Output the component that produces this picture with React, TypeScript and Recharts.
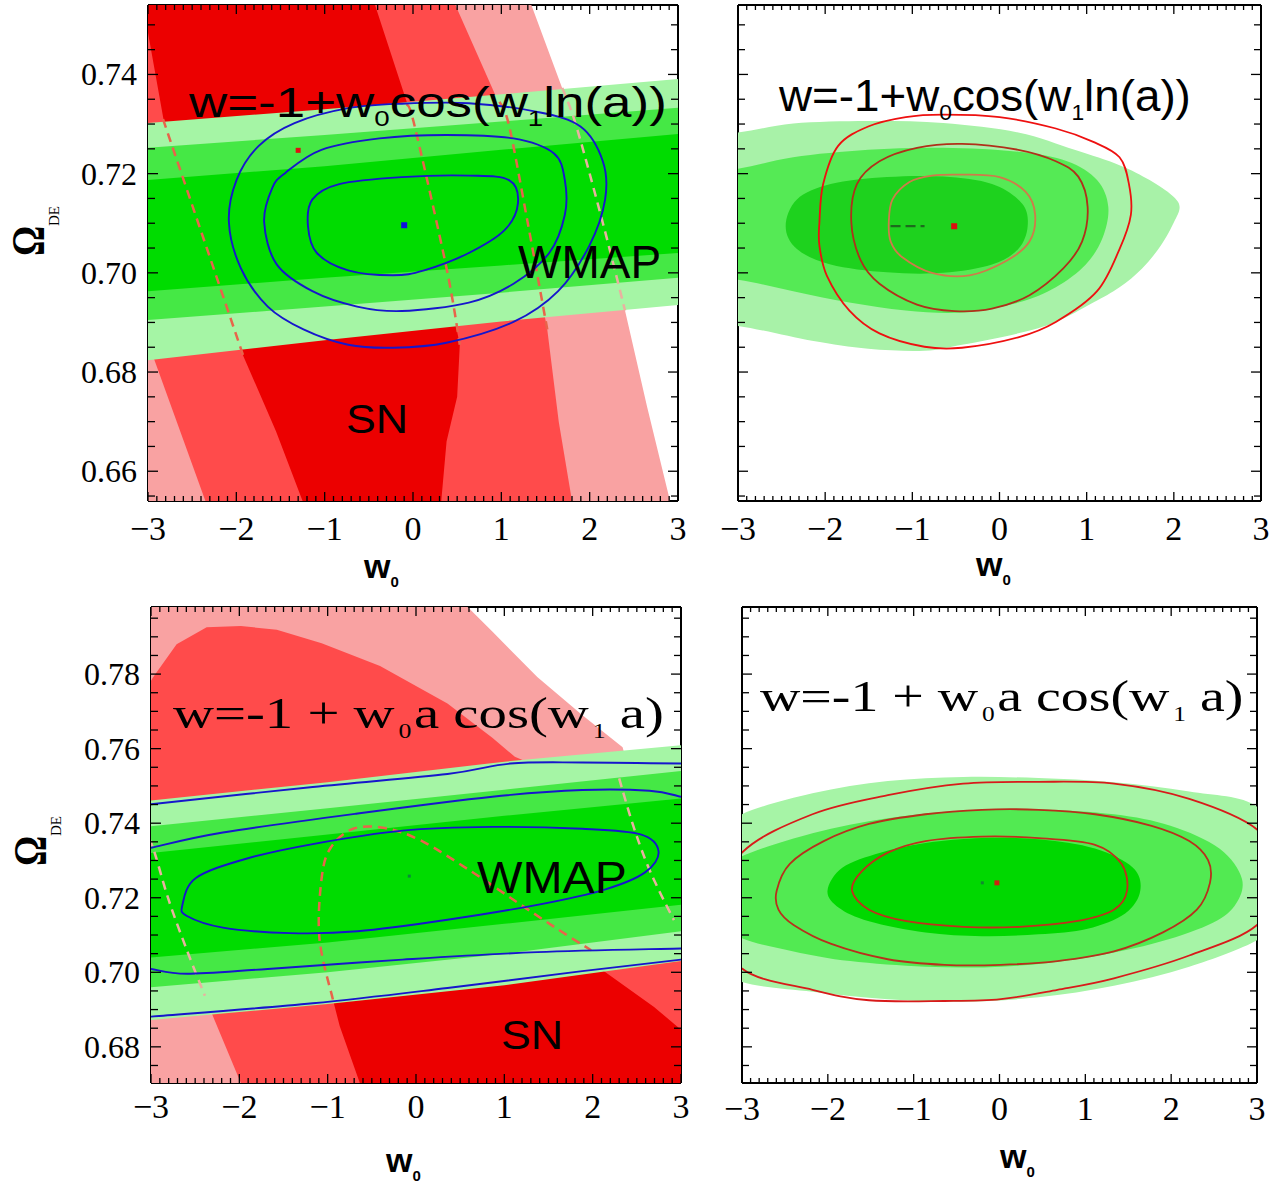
import React from 'react';
import { ScatterChart, Scatter, XAxis, YAxis } from 'recharts';

type Pair = [number, number];

// ---------------- axes ----------------
const X_DOMAIN: [number, number] = [-3, 3];
const X_MAJOR = [-3, -2, -1, 0, 1, 2, 3];
const X_MINOR = Array.from({ length: 61 }, (_, i) => (i - 30) / 10);
const Y_DOMAIN_TOP: [number, number] = [0.654, 0.754];
const Y_MAJOR_TOP = [0.66, 0.68, 0.7, 0.72, 0.74];
const Y_MINOR_TOP = Array.from({ length: 20 }, (_, i) => (655 + 5 * i) / 1000);
const Y_DOMAIN_BOT: [number, number] = [0.6703, 0.798];
const Y_MAJOR_BOT = [0.68, 0.7, 0.72, 0.74, 0.76, 0.78];
const Y_MINOR_BOT = Array.from({ length: 25 }, (_, i) => (675 + 5 * i) / 1000);

// ---------------- colours ----------------
const SN_PINK = '#f9a2a2';
const SN_MED = '#ff4b4b';
const SN_DARK = '#ec0000';
const G_LIGHT = '#a5f5a5';
const G_MID = '#45e845';
const G_IN = '#00dc00';
const BLUE = '#1616cc';
const DASH_RED = '#e8644a';
const DASH_PALE = '#eab0a0';

// ---------------- panel 1 : w=-1+w0 cos(w1 ln a), SN + WMAP ----------------
const P1_SN_3S: Pair[] = [[-3.6, 0.77], [1.0, 0.77], [1.34, 0.754], [1.85, 0.7295], [2.4, 0.6924], [2.65, 0.673], [2.91, 0.654], [3.1, 0.64], [-3.6, 0.64]];
const P1_SN_2S: Pair[] = [[-4.7, 0.77], [0.08, 0.77], [0.48, 0.754], [1.09, 0.7295], [1.52, 0.6886], [1.65, 0.67], [1.8, 0.654], [1.85, 0.645], [-2.2, 0.645], [-2.35, 0.654], [-3.0, 0.686]];
const P1_SN_1S: Pair[] = [[-3.2, 0.77], [-0.75, 0.77], [-0.43, 0.754], [0.02, 0.7295], [0.53, 0.6855], [0.5, 0.675], [0.38, 0.666], [0.32, 0.654], [0.3, 0.645], [-1.15, 0.645], [-1.25, 0.654], [-1.55, 0.668], [-1.92, 0.6832], [-2.81, 0.7295], [-3.0, 0.7484]];
const P1_WMAP_3S: Pair[] = [[-3.5, 0.7298], [-3, 0.7302], [-1, 0.733], [1, 0.736], [3, 0.7391], [3.5, 0.7398], [3.5, 0.6945], [3, 0.6935], [1, 0.6902], [-1, 0.6864], [-3, 0.6824], [-3.5, 0.6814]];
const P1_WMAP_2S: Pair[] = [[-3.5, 0.7248], [-3, 0.7252], [-1, 0.7278], [1, 0.7305], [3, 0.7333], [3.5, 0.734], [3.5, 0.6998], [3, 0.699], [1, 0.696], [-1, 0.6932], [-3, 0.6905], [-3.5, 0.69]];
const P1_WMAP_1S: Pair[] = [[-3.5, 0.7183], [-3, 0.7187], [-1, 0.7215], [1, 0.7248], [3, 0.728], [3.5, 0.7287], [3.5, 0.7048], [3, 0.704], [1, 0.7015], [-1, 0.699], [-3, 0.6963], [-3.5, 0.6958]];
const P1_DASH_L1: Pair[] = [[-2.83, 0.731], [-1.92, 0.6832]];
const P1_DASH_R1: Pair[] = [[-0.07, 0.734], [0.02, 0.7295], [0.38, 0.7009], [0.53, 0.6855]];
const P1_DASH_R2: Pair[] = [[0.98, 0.7345], [1.09, 0.7295], [1.3, 0.71], [1.52, 0.6886]];
const P1_DASH_R3: Pair[] = [[1.69, 0.7373], [1.85, 0.7295], [2.15, 0.71], [2.4, 0.6924]];
const P1_BLUE_1S: Pair[] = [[-1.189, 0.7094], [-1.139, 0.7148], [-0.835, 0.7179], [-0.127, 0.7193], [0.632, 0.7196], [1.087, 0.7187], [1.188, 0.714], [1.036, 0.7086], [0.632, 0.704], [0.126, 0.7005], [-0.228, 0.6995], [-0.734, 0.7005], [-1.088, 0.704]];
const P1_BLUE_2S: Pair[] = [[-1.685, 0.7102], [-1.594, 0.7171], [-1.442, 0.7202], [-1.037, 0.7248], [-0.38, 0.7271], [0.379, 0.7278], [1.138, 0.7271], [1.593, 0.7241], [1.719, 0.7187], [1.719, 0.7117], [1.542, 0.704], [1.138, 0.6978], [0.632, 0.694], [-0.127, 0.6923], [-0.633, 0.6932], [-1.139, 0.6963], [-1.543, 0.7017]];
const P1_BLUE_3S: Pair[] = [[-2.084, 0.7102], [-1.998, 0.7187], [-1.746, 0.7256], [-1.341, 0.7302], [-0.734, 0.7332], [-0.127, 0.7341], [0.632, 0.7342], [1.391, 0.7325], [1.896, 0.7295], [2.149, 0.7225], [2.175, 0.7148], [1.997, 0.7055], [1.643, 0.6963], [1.138, 0.6901], [0.379, 0.6859], [-0.228, 0.6849], [-0.734, 0.6855], [-1.24, 0.6886], [-1.644, 0.6932], [-1.948, 0.7009]];
const P1_RED_DOT: Pair[] = [[-1.3, 0.7247]];
const P1_BLUE_DOT: Pair[] = [[-0.1, 0.7096]];

// ---------------- panel 2 : w=-1+w0 cos(w1 ln a), combined ----------------
const P2_G_3S: Pair[] = [[-3.6, 0.728], [-3, 0.7283], [-2.367, 0.7301], [-1.506, 0.7306], [-0.646, 0.7302], [0.215, 0.7283], [0.861, 0.7248], [1.377, 0.7217], [1.722, 0.7187], [1.98, 0.7156], [2.066, 0.7133], [2.001, 0.7102], [1.851, 0.7055], [1.636, 0.7009], [1.377, 0.6971], [1.076, 0.694], [0.646, 0.6901], [0.215, 0.6878], [-0.43, 0.6855], [-0.861, 0.6843], [-1.506, 0.6847], [-2.152, 0.6863], [-3, 0.6893], [-3.6, 0.69]];
const P2_G_2S: Pair[] = [[-3.6, 0.72], [-3, 0.721], [-2.367, 0.7233], [-1.506, 0.7248], [-0.646, 0.7252], [0.215, 0.7244], [0.775, 0.7225], [1.119, 0.7187], [1.248, 0.7133], [1.184, 0.7071], [0.99, 0.7017], [0.646, 0.6971], [0.215, 0.694], [-0.43, 0.692], [-1.076, 0.6924], [-1.722, 0.694], [-2.367, 0.6963], [-3, 0.6986], [-3.6, 0.6995]];
const P2_G_1S: Pair[] = [[-2.453, 0.7094], [-2.324, 0.7148], [-1.937, 0.7179], [-1.291, 0.7193], [-0.646, 0.7194], [-0.086, 0.7179], [0.258, 0.714], [0.323, 0.7094], [0.215, 0.7048], [-0.086, 0.7017], [-0.646, 0.7], [-1.291, 0.7001], [-1.937, 0.7017], [-2.324, 0.7048]];
const P2_RED_3S: Pair[] = [[-2.066, 0.7102], [-2.023, 0.7179], [-1.851, 0.7256], [-1.506, 0.7295], [-1.076, 0.7314], [-0.646, 0.7319], [0.0, 0.7314], [0.646, 0.7291], [1.076, 0.7264], [1.377, 0.7233], [1.485, 0.7179], [1.507, 0.7117], [1.377, 0.7048], [1.119, 0.6963], [0.646, 0.6901], [0.215, 0.687], [-0.43, 0.6849], [-0.861, 0.6851], [-1.377, 0.6878], [-1.722, 0.6924], [-1.98, 0.6994], [-2.066, 0.7055]];
const P2_RED_2S: Pair[] = [[-1.7, 0.7102], [-1.636, 0.7179], [-1.377, 0.7225], [-0.947, 0.7252], [-0.43, 0.726], [0.215, 0.7248], [0.646, 0.7225], [0.904, 0.7194], [1.011, 0.7133], [0.947, 0.7063], [0.732, 0.7009], [0.344, 0.6955], [-0.086, 0.6928], [-0.516, 0.6923], [-0.947, 0.6936], [-1.377, 0.6978], [-1.592, 0.7025]];
const P2_RED_1S: Pair[] = [[-1.27, 0.7102], [-1.227, 0.7148], [-1.033, 0.7183], [-0.775, 0.7196], [-0.43, 0.7198], [0.0, 0.7193], [0.301, 0.7163], [0.409, 0.7117], [0.344, 0.7063], [0.086, 0.7025], [-0.344, 0.6995], [-0.775, 0.7], [-1.119, 0.7032], [-1.248, 0.7063]];
const P2_DARK_DASH: Pair[] = [[-1.25, 0.7094], [-0.86, 0.7094]];
const P2_RED_DOT: Pair[] = [[-0.52, 0.7094]];

// ---------------- panel 3 : w=-1 + w0 a cos(w1 a), SN + WMAP ----------------
const P3_SN_3S: Pair[] = [[-3.5, 0.81], [0.45, 0.81], [0.585, 0.798], [0.864, 0.7914], [1.373, 0.7792], [1.881, 0.769], [2.339, 0.7604], [2.45, 0.7507], [2.593, 0.7314], [2.72, 0.7248], [3.0, 0.708], [3.5, 0.69], [3.5, 0.66], [-3.5, 0.66]];
const P3_SN_2S: Pair[] = [[-3.3, 0.76], [-3.2, 0.77], [-2.98, 0.779], [-2.71, 0.788], [-2.37, 0.7926], [-1.983, 0.7929], [-1.576, 0.7919], [-1.068, 0.7883], [-0.407, 0.7822], [0.356, 0.7721], [0.864, 0.7629], [1.119, 0.7578], [1.6, 0.753], [2.1, 0.747], [2.6, 0.738], [3.0, 0.729], [3.5, 0.715], [3.5, 0.66], [-1.95, 0.66], [-1.983, 0.6703], [-2.288, 0.6876], [-2.39, 0.6937], [-2.593, 0.7059], [-2.797, 0.7192], [-2.95, 0.7314], [-3.05, 0.738], [-3.3, 0.745]];
const P3_SN_1S: Pair[] = [[-0.62, 0.66], [-0.636, 0.6703], [-0.712, 0.6754], [-0.864, 0.6856], [-0.941, 0.6927], [-1.093, 0.709], [-1.068, 0.7253], [-0.966, 0.7334], [-0.712, 0.7385], [-0.356, 0.7387], [0.051, 0.7354], [0.61, 0.7273], [1.119, 0.7192], [1.576, 0.712], [1.983, 0.7059], [2.034, 0.7019], [2.695, 0.6907], [3.0, 0.6846], [3.3, 0.675], [3.3, 0.66]];
const P3_WMAP_3S: Pair[] = [[-3.5, 0.7449], [-3, 0.7461], [-1, 0.751], [1, 0.7565], [3, 0.7609], [3.5, 0.762], [3.5, 0.7045], [3, 0.703], [1, 0.6965], [-1, 0.6915], [-3, 0.6872], [-3.5, 0.6862]];
const P3_WMAP_2S: Pair[] = [[-3.5, 0.738], [-3, 0.7392], [-1, 0.744], [1, 0.749], [3, 0.754], [3.5, 0.7552], [3.5, 0.7125], [3, 0.711], [1, 0.705], [-1, 0.7], [-3, 0.696], [-3.5, 0.695]];
const P3_WMAP_1S: Pair[] = [[-3.5, 0.7308], [-3, 0.732], [-1, 0.737], [1, 0.742], [3, 0.7466], [3.5, 0.7478], [3.5, 0.7194], [3, 0.7181], [1, 0.713], [-1, 0.708], [-3, 0.704], [-3.5, 0.703]];
const P3_DASH_ARCH: Pair[] = [[-0.941, 0.6927], [-1.093, 0.709], [-1.068, 0.7253], [-0.966, 0.7334], [-0.712, 0.7385], [-0.356, 0.7387], [0.051, 0.7354], [0.61, 0.7273], [1.119, 0.7192], [1.576, 0.712], [1.983, 0.7059]];
const P3_DASH_LEFT: Pair[] = [[-3.02, 0.736], [-2.95, 0.7314], [-2.797, 0.7192], [-2.593, 0.7059], [-2.39, 0.6937]];
const P3_DASH_RIGHT: Pair[] = [[2.3, 0.752], [2.45, 0.74], [2.6, 0.73], [2.75, 0.722], [2.92, 0.714]];
const P3_BLUE_3S_TOP: Pair[] = [[-3.1, 0.7445], [-3, 0.7451], [-1.169, 0.7497], [0.356, 0.7532], [1.068, 0.756], [1.881, 0.7563], [3.0, 0.756], [3.1, 0.7558]];
const P3_BLUE_2S_TOP: Pair[] = [[-3.1, 0.7328], [-3, 0.7334], [-2.186, 0.7375], [-0.661, 0.7426], [0.864, 0.7471], [1.881, 0.7489], [2.644, 0.7487], [3.0, 0.7471], [3.1, 0.7465]];
const P3_BLUE_1S: Pair[] = [[-2.644, 0.7181], [-2.492, 0.7253], [-1.932, 0.7304], [-1.169, 0.7344], [-0.153, 0.738], [0.864, 0.739], [1.881, 0.7385], [2.542, 0.737], [2.746, 0.7324], [2.593, 0.7268], [2.136, 0.7222], [1.373, 0.7181], [0.356, 0.7141], [-0.661, 0.711], [-1.424, 0.7105], [-2.186, 0.712], [-2.593, 0.7151]];
const P3_BLUE_2S_BOT: Pair[] = [[-3.1, 0.7011], [-3, 0.7009], [-2.593, 0.6996], [-1.678, 0.7009], [-0.153, 0.7034], [1.373, 0.7054], [3.0, 0.7064], [3.1, 0.7065]];
const P3_BLUE_3S_BOT: Pair[] = [[-3.1, 0.6879], [-3, 0.6881], [-1.169, 0.6917], [0.356, 0.6958], [1.881, 0.7003], [3.0, 0.7034], [3.1, 0.7037]];
const P3_DOT: Pair[] = [[-0.076, 0.7258]];

// ---------------- panel 4 : w=-1 + w0 a cos(w1 a), combined ----------------
const P4_G_3S: Pair[] = [[-3.3, 0.736], [-3, 0.7424], [-2.179, 0.748], [-1.301, 0.7513], [-0.423, 0.7524], [0.455, 0.7521], [1.333, 0.751], [2.211, 0.7485], [3, 0.7444], [3.25, 0.73], [3.25, 0.715], [3, 0.7086], [2.211, 0.7015], [1.333, 0.6964], [0.455, 0.6933], [-0.423, 0.6921], [-1.301, 0.6928], [-2.179, 0.6948], [-3, 0.6974], [-3.3, 0.703], [-3.45, 0.72]];
const P4_G_2S: Pair[] = [[-3.25, 0.726], [-3, 0.7311], [-2.179, 0.7373], [-1.301, 0.7413], [-0.423, 0.7434], [0.455, 0.7437], [1.333, 0.7424], [1.991, 0.7393], [2.562, 0.7332], [2.825, 0.725], [2.738, 0.7178], [2.43, 0.7127], [1.772, 0.7076], [0.894, 0.7035], [0.016, 0.7015], [-0.862, 0.7015], [-1.74, 0.703], [-2.399, 0.7056], [-3, 0.7091], [-3.25, 0.714], [-3.35, 0.72]];
const P4_G_1S: Pair[] = [[-2.004, 0.7219], [-1.828, 0.7281], [-1.389, 0.7321], [-0.862, 0.7347], [-0.204, 0.736], [0.455, 0.7357], [1.113, 0.7332], [1.552, 0.7281], [1.64, 0.7219], [1.464, 0.7158], [1.026, 0.7117], [0.455, 0.7102], [-0.204, 0.7097], [-0.862, 0.7107], [-1.521, 0.7137], [-1.872, 0.7173]];
const P4_RED_3S: Pair[] = [[-3.3, 0.716], [-3, 0.7321], [-2.179, 0.7424], [-1.301, 0.7475], [-0.423, 0.7506], [0.455, 0.7511], [1.333, 0.7506], [2.211, 0.7465], [3, 0.7383], [3.3, 0.726], [3, 0.7127], [2.211, 0.7045], [1.333, 0.6984], [0.674, 0.6953], [0.016, 0.6928], [-0.643, 0.6923], [-1.521, 0.6925], [-2.179, 0.6953], [-3, 0.701]];
const P4_RED_2S: Pair[] = [[-2.596, 0.7219], [-2.443, 0.7291], [-2.047, 0.7352], [-1.521, 0.7398], [-0.862, 0.7424], [-0.204, 0.7436], [0.455, 0.7436], [1.113, 0.7424], [1.772, 0.7393], [2.211, 0.7352], [2.43, 0.7301], [2.452, 0.724], [2.299, 0.7168], [1.904, 0.7107], [1.333, 0.7056], [0.674, 0.703], [0.016, 0.702], [-0.643, 0.702], [-1.301, 0.7035], [-1.96, 0.7076], [-2.399, 0.7127], [-2.575, 0.7168]];
const P4_RED_1S: Pair[] = [[-1.718, 0.7219], [-1.608, 0.727], [-1.301, 0.7321], [-0.862, 0.7352], [-0.204, 0.7364], [0.455, 0.736], [1.113, 0.7342], [1.421, 0.7291], [1.486, 0.7219], [1.333, 0.7168], [0.894, 0.7137], [0.235, 0.7122], [-0.423, 0.7122], [-1.082, 0.7137], [-1.521, 0.7168]];
const P4_GREEN_DOT: Pair[] = [[-0.2, 0.724]];
const P4_RED_DOT: Pair[] = [[-0.03, 0.724]];

// ---------------- helpers ----------------
type LayerSpec = {
  data: Pair[];
  kind: 'fill' | 'line' | 'dot';
  color: string;
  width?: number;
  dash?: string;
  closed?: boolean;
  smooth?: boolean;
  size?: number;
};

type XY = { x: number; y: number };
const toPts = (a: Pair[]) => a.map(([x, y]) => ({ x, y }));
const cleanPts = (pts: any[]): XY[] =>
  (pts || []).filter((q: any) => q && q.x != null && q.y != null && isFinite(q.x) && isFinite(q.y));

// straight or Catmull-Rom smoothed path through the pixel points the library produced
const pathOf = (raw: any[], closed: boolean, smooth: boolean) => {
  const p = cleanPts(raw);
  if (!p.length) return '';
  if (!smooth || p.length < 3) {
    return p.map((q, i) => `${i ? 'L' : 'M'}${q.x},${q.y}`).join('') + (closed ? 'Z' : '');
  }
  const n = p.length;
  const at = (i: number) => (closed ? p[(i + n) % n] : p[Math.max(0, Math.min(n - 1, i))]);
  const segs = closed ? n : n - 1;
  let d = `M${p[0].x},${p[0].y}`;
  for (let i = 0; i < segs; i++) {
    const p0 = at(i - 1), p1 = at(i), p2 = at(i + 1), p3 = at(i + 2);
    const c1x = p1.x + (p2.x - p0.x) / 6, c1y = p1.y + (p2.y - p0.y) / 6;
    const c2x = p2.x - (p3.x - p1.x) / 6, c2y = p2.y - (p3.y - p1.y) / 6;
    d += `C${c1x},${c1y} ${c2x},${c2y} ${p2.x},${p2.y}`;
  }
  return d + (closed ? 'Z' : '');
};
const fillLine = (color: string, smooth: boolean) => (props: any) => <path d={pathOf(props.points, true, smooth)} fill={color} stroke="none" />;
const strokeLine = (color: string, width: number, dash: string | undefined, closed: boolean, smooth: boolean) => (props: any) => (
  <path d={pathOf(props.points, closed, smooth)} fill="none" stroke={color} strokeWidth={width} strokeDasharray={dash} strokeLinejoin="round" />
);
const noShape = () => <g />;
const dotShape = (color: string, s: number) => (p: any) => <rect x={p.cx - s / 2} y={p.cy - s / 2} width={s} height={s} fill={color} />;

const near = (v: number, list: number[]) => list.some((m) => Math.abs(m - v) < 1e-6);
const fmtX = (v: number) => (v < 0 ? '\u2212' + Math.abs(v) : String(v));

const SANS = '"Liberation Sans", Arial, Helvetica, sans-serif';
const SERIF = '"Liberation Serif", "Times New Roman", Times, serif';

const bottomTick = (labels: boolean, base: number) => (p: any) => {
  const v = p.payload?.value as number;
  const major = near(v, X_MAJOR);
  return (
    <g>
      <line x1={p.x} x2={p.x} y1={p.y} y2={p.y - (major ? 9 : 5)} stroke="#000" strokeWidth={1.3} />
      {labels && major ? (
        <text x={p.x} y={p.y + base} textAnchor="middle" fontFamily={SERIF} fontSize={34} fill="#000">
          {fmtX(v)}
        </text>
      ) : null}
    </g>
  );
};
const topTick = (p: any) => {
  const v = p.payload?.value as number;
  const major = near(v, X_MAJOR);
  return <line x1={p.x} x2={p.x} y1={p.y} y2={p.y + (major ? 9 : 5)} stroke="#000" strokeWidth={1.3} />;
};
const leftTick = (labels: boolean, majors: number[]) => (p: any) => {
  const v = p.payload?.value as number;
  const major = near(v, majors);
  return (
    <g>
      <line x1={p.x} x2={p.x + (major ? 10 : 7)} y1={p.y} y2={p.y} stroke="#000" strokeWidth={1.3} />
      {labels && major ? (
        <text x={p.x - 11} y={p.y + 11} textAnchor="end" fontFamily={SERIF} fontSize={32} fill="#000">
          {v.toFixed(2)}
        </text>
      ) : null}
    </g>
  );
};
const rightTick = (majors: number[]) => (p: any) => {
  const v = p.payload?.value as number;
  const major = near(v, majors);
  return <line x1={p.x} x2={p.x - (major ? 10 : 7)} y1={p.y} y2={p.y} stroke="#000" strokeWidth={1.3} />;
};

type PanelProps = {
  box: { x: number; y: number; w: number; h: number };
  yDomain: [number, number];
  yMajor: number[];
  yMinor: number[];
  yLabels: boolean;
  xLabelBase: number;
  layers: LayerSpec[];
};

function Panel({ box, yDomain, yMajor, yMinor, yLabels, xLabelBase, layers }: PanelProps) {
  // outer room around the plot box; each axis band is 1px thick, so margins are 1px smaller
  const oL = 150, oT = 10, oR = 12, oB = 60;
  const W = box.w + oL + oR;
  const H = box.h + oT + oB;
  const axisLine = { stroke: '#000', strokeWidth: 2 };
  return (
    <div style={{ position: 'absolute', left: box.x - oL, top: box.y - oT, width: W, height: H }}>
      <ScatterChart width={W} height={H} margin={{ top: oT - 1, right: oR - 1, bottom: oB - 1, left: oL - 1 }}>
        {layers.map((L, i) => {
          if (L.kind === 'fill') {
            return <Scatter key={i} data={toPts(L.data)} isAnimationActive={false} legendType="none" shape={noShape} line={fillLine(L.color, !!L.smooth)} />;
          }
          if (L.kind === 'line') {
            const useData = L.closed && !L.smooth ? [...L.data, L.data[0]] : L.data;
            return (
              <Scatter
                key={i}
                data={toPts(useData)}
                isAnimationActive={false}
                legendType="none"
                shape={noShape}
                line={strokeLine(L.color, L.width ?? 1.8, L.dash, !!L.closed, !!L.smooth)}
              />
            );
          }
          return <Scatter key={i} data={toPts(L.data)} isAnimationActive={false} legendType="none" shape={dotShape(L.color, L.size ?? 5)} />;
        })}
        <XAxis
          xAxisId={0}
          type="number"
          dataKey="x"
          domain={X_DOMAIN}
          allowDataOverflow
          ticks={X_MINOR}
          interval={0}
          height={1}
          tickSize={0}
          tickMargin={0}
          tickLine={false}
          axisLine={axisLine}
          tick={bottomTick(true, xLabelBase)}
        />
        <XAxis
          xAxisId="top"
          orientation="top"
          type="number"
          dataKey="x"
          domain={X_DOMAIN}
          allowDataOverflow
          ticks={X_MINOR}
          interval={0}
          height={1}
          tickSize={0}
          tickMargin={0}
          tickLine={false}
          axisLine={axisLine}
          tick={topTick}
        />
        <YAxis
          yAxisId={0}
          type="number"
          dataKey="y"
          domain={yDomain}
          allowDataOverflow
          ticks={yMinor}
          interval={0}
          width={1}
          tickSize={0}
          tickMargin={0}
          tickLine={false}
          axisLine={axisLine}
          tick={leftTick(yLabels, yMajor)}
        />
        <YAxis
          yAxisId="right"
          orientation="right"
          type="number"
          dataKey="y"
          domain={yDomain}
          allowDataOverflow
          ticks={yMinor}
          interval={0}
          width={1}
          tickSize={0}
          tickMargin={0}
          tickLine={false}
          axisLine={axisLine}
          tick={rightTick(yMajor)}
        />
      </ScatterChart>
    </div>
  );
}

const P1_LAYERS: LayerSpec[] = [
  { data: P1_SN_3S, kind: 'fill', color: SN_PINK },
  { data: P1_SN_2S, kind: 'fill', color: SN_MED },
  { data: P1_SN_1S, kind: 'fill', color: SN_DARK },
  { data: P1_WMAP_3S, kind: 'fill', color: G_LIGHT },
  { data: P1_WMAP_2S, kind: 'fill', color: G_MID },
  { data: P1_WMAP_1S, kind: 'fill', color: G_IN },
  { data: P1_DASH_L1, kind: 'line', color: DASH_RED, width: 2.5, dash: '9 6' },
  { data: P1_DASH_R1, kind: 'line', color: DASH_RED, width: 2.5, dash: '9 6', smooth: true },
  { data: P1_DASH_R2, kind: 'line', color: DASH_RED, width: 2.5, dash: '9 6', smooth: true },
  { data: P1_DASH_R3, kind: 'line', color: DASH_PALE, width: 2.5, dash: '9 6', smooth: true },
  { data: P1_BLUE_1S, kind: 'line', color: BLUE, width: 1.9, closed: true, smooth: true },
  { data: P1_BLUE_2S, kind: 'line', color: BLUE, width: 1.9, closed: true, smooth: true },
  { data: P1_BLUE_3S, kind: 'line', color: BLUE, width: 1.9, closed: true, smooth: true },
  { data: P1_RED_DOT, kind: 'dot', color: '#e01010', size: 5 },
  { data: P1_BLUE_DOT, kind: 'dot', color: '#1010e0', size: 6 },
];

const P2_LAYERS: LayerSpec[] = [
  { data: P2_G_3S, kind: 'fill', color: '#a8f2a8', smooth: true },
  { data: P2_G_2S, kind: 'fill', color: '#55ea55', smooth: true },
  { data: P2_G_1S, kind: 'fill', color: '#1ed21e', smooth: true },
  { data: P2_RED_3S, kind: 'line', color: '#ee1010', width: 1.8, closed: true, smooth: true },
  { data: P2_RED_2S, kind: 'line', color: '#b0301a', width: 1.8, closed: true, smooth: true },
  { data: P2_RED_1S, kind: 'line', color: '#d07a4a', width: 1.8, closed: true, smooth: true },
  { data: P2_DARK_DASH, kind: 'line', color: '#1d6b1d', width: 2.2, dash: '10 5' },
  { data: P2_RED_DOT, kind: 'dot', color: '#dd1010', size: 6 },
];

const P3_LAYERS: LayerSpec[] = [
  { data: P3_SN_3S, kind: 'fill', color: SN_PINK },
  { data: P3_SN_2S, kind: 'fill', color: SN_MED },
  { data: P3_SN_1S, kind: 'fill', color: SN_DARK },
  { data: P3_WMAP_3S, kind: 'fill', color: G_LIGHT },
  { data: P3_WMAP_2S, kind: 'fill', color: G_MID },
  { data: P3_WMAP_1S, kind: 'fill', color: G_IN },
  { data: P3_DASH_ARCH, kind: 'line', color: DASH_RED, width: 2.5, dash: '9 6', smooth: true },
  { data: P3_DASH_LEFT, kind: 'line', color: DASH_PALE, width: 2.5, dash: '9 6', smooth: true },
  { data: P3_DASH_RIGHT, kind: 'line', color: DASH_PALE, width: 2.5, dash: '9 6', smooth: true },
  { data: P3_BLUE_3S_TOP, kind: 'line', color: BLUE, width: 1.9, smooth: true },
  { data: P3_BLUE_2S_TOP, kind: 'line', color: BLUE, width: 1.9, smooth: true },
  { data: P3_BLUE_1S, kind: 'line', color: BLUE, width: 1.9, closed: true, smooth: true },
  { data: P3_BLUE_2S_BOT, kind: 'line', color: BLUE, width: 1.9, smooth: true },
  { data: P3_BLUE_3S_BOT, kind: 'line', color: BLUE, width: 1.9, smooth: true },
  { data: P3_DOT, kind: 'dot', color: '#0a8a3a', size: 3 },
];

const P4_LAYERS: LayerSpec[] = [
  { data: P4_G_3S, kind: 'fill', color: '#a6f4a6', smooth: true },
  { data: P4_G_2S, kind: 'fill', color: '#52ea52', smooth: true },
  { data: P4_G_1S, kind: 'fill', color: '#00d800', smooth: true },
  { data: P4_RED_3S, kind: 'line', color: '#d81a1a', width: 1.8, closed: true, smooth: true },
  { data: P4_RED_2S, kind: 'line', color: '#b8301c', width: 1.8, closed: true, smooth: true },
  { data: P4_RED_1S, kind: 'line', color: '#c0301c', width: 1.8, closed: true, smooth: true },
  { data: P4_GREEN_DOT, kind: 'dot', color: '#108a30', size: 3 },
  { data: P4_RED_DOT, kind: 'dot', color: '#d02010', size: 5 },
];

function Overlay() {
  const sub = 22;
  return (
    <svg width={1288} height={1186} style={{ position: 'absolute', left: 0, top: 0, pointerEvents: 'none' }}>
      {/* panel 1 */}
      <text transform="translate(189,117) scale(1.26,1)" fontFamily={SANS} fontSize={42} fill="#000">
        w=-1+w<tspan fontSize={sub} dy={9}>0</tspan>
        <tspan dy={-9}>cos(w</tspan>
        <tspan fontSize={sub} dy={9}>1</tspan>
        <tspan dy={-9}>ln(a))</tspan>
      </text>
      <text x={518} y={278} fontFamily={SANS} fontSize={46} fill="#000">WMAP</text>
      <text transform="translate(346,433) scale(1.12,1)" fontFamily={SANS} fontSize={40} fill="#000">SN</text>
      {/* panel 2 */}
      <text transform="translate(779,111) scale(1.04,1)" fontFamily={SANS} fontSize={44} fill="#000">
        w=-1+w<tspan fontSize={sub} dy={9}>0</tspan>
        <tspan dy={-9}>cos(w</tspan>
        <tspan fontSize={sub} dy={9}>1</tspan>
        <tspan dy={-9}>ln(a))</tspan>
      </text>
      {/* panel 3 */}
      <text transform="translate(173,728) scale(1.29,1)" fontFamily={SERIF} fontSize={44} fill="#000">
        w=-1 + w<tspan fontSize={20} dx={3} dy={10}>0</tspan>
        <tspan dy={-10} dx={2}>a cos(w</tspan>
        <tspan fontSize={20} dx={3} dy={10}>1</tspan>
        <tspan dy={-10}> a)</tspan>
      </text>
      <text transform="translate(477,893) scale(1.07,1)" fontFamily={SANS} fontSize={45} fill="#000">WMAP</text>
      <text transform="translate(501,1049) scale(1.12,1)" fontFamily={SANS} fontSize={40} fill="#000">SN</text>
      {/* panel 4 */}
      <text transform="translate(760,711) scale(1.27,1)" fontFamily={SERIF} fontSize={44} fill="#000">
        w=-1 + w<tspan fontSize={20} dx={3} dy={10}>0</tspan>
        <tspan dy={-10} dx={2}>a cos(w</tspan>
        <tspan fontSize={20} dx={3} dy={10}>1</tspan>
        <tspan dy={-10}> a)</tspan>
      </text>

      {/* y axis labels */}
      <text transform="translate(44,256) rotate(-90) scale(0.82,1)" fontFamily={SERIF} fontWeight="bold" fontSize={46} fill="#000">Ω</text>
      <text transform="translate(59,226) rotate(-90)" fontFamily={SERIF} fontSize={15} fill="#000">DE</text>
      <text transform="translate(46,866) rotate(-90) scale(0.82,1)" fontFamily={SERIF} fontWeight="bold" fontSize={46} fill="#000">Ω</text>
      <text transform="translate(61,836) rotate(-90)" fontFamily={SERIF} fontSize={15} fill="#000">DE</text>

      {/* x axis labels */}
      <text x={364} y={578} fontFamily={SANS} fontWeight="bold" fontSize={34} fill="#000">
        w<tspan fontSize={15} dy={9}>0</tspan>
      </text>
      <text x={976} y={576} fontFamily={SANS} fontWeight="bold" fontSize={34} fill="#000">
        w<tspan fontSize={15} dy={9}>0</tspan>
      </text>
      <text x={386} y={1172} fontFamily={SANS} fontWeight="bold" fontSize={34} fill="#000">
        w<tspan fontSize={15} dy={9}>0</tspan>
      </text>
      <text x={1000} y={1168} fontFamily={SANS} fontWeight="bold" fontSize={34} fill="#000">
        w<tspan fontSize={15} dy={9}>0</tspan>
      </text>
    </svg>
  );
}

export default function App() {
  return (
    <div style={{ position: 'absolute', left: 0, top: 0, width: 1288, height: 1186, background: '#fff', overflow: 'hidden' }}>
      <Panel box={{ x: 148, y: 5, w: 530, h: 496 }} yDomain={Y_DOMAIN_TOP} yMajor={Y_MAJOR_TOP} yMinor={Y_MINOR_TOP} yLabels xLabelBase={39} layers={P1_LAYERS} />
      <Panel box={{ x: 738, y: 5, w: 523, h: 496 }} yDomain={Y_DOMAIN_TOP} yMajor={Y_MAJOR_TOP} yMinor={Y_MINOR_TOP} yLabels={false} xLabelBase={39} layers={P2_LAYERS} />
      <Panel box={{ x: 151, y: 607, w: 530, h: 476 }} yDomain={Y_DOMAIN_BOT} yMajor={Y_MAJOR_BOT} yMinor={Y_MINOR_BOT} yLabels xLabelBase={35} layers={P3_LAYERS} />
      <Panel box={{ x: 742, y: 607, w: 515, h: 476 }} yDomain={Y_DOMAIN_BOT} yMajor={Y_MAJOR_BOT} yMinor={Y_MINOR_BOT} yLabels={false} xLabelBase={37} layers={P4_LAYERS} />
      <Overlay />
    </div>
  );
}
